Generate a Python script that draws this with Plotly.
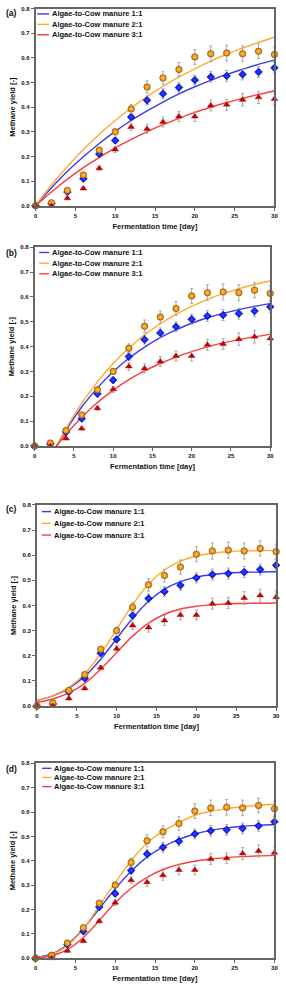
import plotly.graph_objects as go

W, H = 286, 987

# ---------------- data ----------------
days = [0, 2, 4, 6, 8, 10, 12, 14, 16, 18, 20, 22, 24, 26, 28, 30]

series_names = ["Algae-to-Cow manure 1:1", "Algae-to-Cow manure 2:1", "Algae-to-Cow manure 3:1"]

# measured methane yield (same in all panels)
yield_11 = [0.0, 0.008, 0.056, 0.110, 0.210, 0.265, 0.360, 0.428, 0.455, 0.480, 0.510, 0.523, 0.527, 0.533, 0.543, 0.560]
yield_21 = [0.0, 0.012, 0.062, 0.125, 0.226, 0.300, 0.393, 0.482, 0.519, 0.553, 0.604, 0.617, 0.620, 0.617, 0.627, 0.614]
yield_31 = [0.0, 0.000, 0.030, 0.070, 0.152, 0.228, 0.320, 0.312, 0.340, 0.362, 0.362, 0.407, 0.410, 0.430, 0.440, 0.433]

err_11 = [0.0, 0.004, 0.006, 0.008, 0.010, 0.012, 0.015, 0.018, 0.020, 0.020, 0.020, 0.022, 0.022, 0.022, 0.022, 0.022]
err_21 = [0.0, 0.004, 0.006, 0.008, 0.010, 0.012, 0.018, 0.025, 0.025, 0.028, 0.030, 0.032, 0.032, 0.032, 0.030, 0.030]
err_31 = [0.0, 0.003, 0.005, 0.006, 0.008, 0.012, 0.015, 0.018, 0.020, 0.020, 0.020, 0.022, 0.022, 0.025, 0.025, 0.025]

# fitted model curves
fit_a_11 = [0.0, 0.073, 0.140, 0.199, 0.253, 0.302, 0.346, 0.385, 0.421, 0.454, 0.483, 0.509, 0.533, 0.554, 0.574, 0.591]
fit_a_21 = [0.0, 0.084, 0.159, 0.228, 0.290, 0.346, 0.397, 0.443, 0.485, 0.522, 0.556, 0.587, 0.615, 0.640, 0.663, 0.684]
fit_a_31 = [0.0, 0.056, 0.108, 0.155, 0.196, 0.235, 0.269, 0.301, 0.329, 0.355, 0.379, 0.400, 0.419, 0.436, 0.452, 0.467]

fit_b_11 = [-0.180, -0.047, 0.064, 0.157, 0.234, 0.299, 0.353, 0.398, 0.436, 0.467, 0.494, 0.516, 0.534, 0.549, 0.562, 0.573]
fit_b_21 = [-0.192, -0.050, 0.070, 0.172, 0.258, 0.332, 0.394, 0.447, 0.492, 0.530, 0.562, 0.590, 0.613, 0.633, 0.650, 0.664]
fit_b_31 = [-0.130, -0.034, 0.047, 0.116, 0.175, 0.224, 0.267, 0.302, 0.332, 0.358, 0.380, 0.399, 0.415, 0.428, 0.439, 0.449]

fit_c_11 = [0.022, 0.040, 0.070, 0.118, 0.186, 0.268, 0.349, 0.417, 0.465, 0.495, 0.513, 0.523, 0.529, 0.532, 0.533, 0.534]
fit_c_21 = [0.022, 0.041, 0.074, 0.129, 0.208, 0.305, 0.403, 0.485, 0.541, 0.576, 0.597, 0.608, 0.614, 0.617, 0.618, 0.619]
fit_c_31 = [0.015, 0.028, 0.052, 0.090, 0.146, 0.213, 0.278, 0.330, 0.365, 0.386, 0.397, 0.403, 0.407, 0.408, 0.409, 0.410]

fit_d_11 = [0.003, 0.017, 0.056, 0.121, 0.203, 0.285, 0.357, 0.415, 0.457, 0.488, 0.510, 0.525, 0.535, 0.542, 0.546, 0.549]
fit_d_21 = [0.002, 0.014, 0.052, 0.120, 0.215, 0.310, 0.400, 0.473, 0.522, 0.557, 0.587, 0.603, 0.614, 0.622, 0.628, 0.632]
fit_d_31 = [0.002, 0.010, 0.035, 0.085, 0.155, 0.228, 0.287, 0.332, 0.364, 0.385, 0.398, 0.407, 0.413, 0.417, 0.420, 0.422]

panel_labels = ["(a)", "(b)", "(c)", "(d)"]
fits = [
    [fit_a_11, fit_a_21, fit_a_31],
    [fit_b_11, fit_b_21, fit_b_31],
    [fit_c_11, fit_c_21, fit_c_31],
    [fit_d_11, fit_d_21, fit_d_31],
]
measured = [yield_11, yield_21, yield_31]
errors = [err_11, err_21, err_31]

x_ticks = [0, 5, 10, 15, 20, 25, 30]
y_ticks = [0.0, 0.1, 0.2, 0.3, 0.4, 0.5, 0.6, 0.7, 0.8]

# ---------------- styles ----------------
FONT = "Liberation Sans, Arial, sans-serif"
line_colors = ["#3a3af0", "#ffab30", "#ff3c3c"]
AX = "#666666"

# plot areas in pixels: (left, right, top, bottom)
boxes = [
    (34.3, 278.3, 5.7, 204.0),
    (33.3, 274.0, 245.7, 445.7),
    (35.7, 280.0, 505.0, 707.3),
    (34.3, 278.3, 765.0, 961.0),
]
# legend geometry per panel: (line x0, line x1, first row y, row gap)
legend_geo = [
    (36.0, 48.0, 11.0, 10.5),
    (38.0, 48.0, 251.0, 10.7),
    (40.7, 50.0, 511.7, 11.8),
    (41.0, 50.5, 770.0, 9.2),
]
label_y = [10.3, 252.0, 509.0, 771.0]


def px(x):
    return x / W


def py(y):
    return 1 - y / H


fig = go.Figure()
layout = dict(
    width=W, height=H,
    margin=dict(l=0, r=0, t=0, b=0),
    paper_bgcolor="white", plot_bgcolor="white",
    showlegend=False,
    font=dict(family=FONT, color="#111111", weight="bold"),
)
shapes = []
annotations = []

for p in range(4):
    xa = "x" if p == 0 else f"x{p+1}"
    ya = "y" if p == 0 else f"y{p+1}"
    l, r, t, b = boxes[p]

    # fitted curves
    for s in range(3):
        fig.add_trace(go.Scatter(
            x=days, y=fits[p][s], mode="lines", xaxis=xa, yaxis=ya,
            line=dict(color=line_colors[s], width=1.4, shape="spline", smoothing=1.0),
            name=series_names[s], hoverinfo="skip", cliponaxis=True,
        ))
    # measured points
    marker_styles = [
        dict(symbol="diamond", size=6, color="#0000e0",
             line=dict(color="#00008a", width=0.5),
             gradient=dict(type="radial", color="#2a4cff")),
        dict(symbol="circle", size=6.5, color="#d98208",
             line=dict(color="#7a4604", width=0.6),
             gradient=dict(type="radial", color="#ffc34a")),
        dict(symbol="triangle-up", size=6, color="#cc0000",
             line=dict(color="#8a0000", width=0.4)),
    ]
    for s in range(3):
        fig.add_trace(go.Scatter(
            x=days, y=measured[s], mode="markers", xaxis=xa, yaxis=ya,
            marker=marker_styles[s],
            error_y=dict(type="data", array=errors[s], visible=True,
                         color="#a8a8a8", thickness=1, width=1.5),
            name=series_names[s], cliponaxis=False,
        ))

    axis_common = dict(
        showline=True, linecolor=AX, linewidth=1.6, mirror=True,
        ticks="outside", ticklen=3, tickwidth=1, tickcolor=AX,
        showgrid=False, zeroline=False,
        tickfont=dict(family=FONT, size=6, color="#111111", weight="bold"),
    )
    layout["xaxis" if p == 0 else f"xaxis{p+1}"] = dict(
        axis_common, domain=[px(l), px(r)], anchor=ya, range=[0, 30],
        tickmode="array", tickvals=x_ticks, ticktext=[str(v) for v in x_ticks],
        title=dict(text="Fermentation time [day]", standoff=6,
                   font=dict(family=FONT, size=7.5, color="#111111", weight="bold")),
    )
    layout["yaxis" if p == 0 else f"yaxis{p+1}"] = dict(
        axis_common, domain=[py(b), py(t)], anchor=xa, range=[0, 0.8],
        tickmode="array", tickvals=y_ticks, ticktext=[f"{v:.1f}" for v in y_ticks],
        title=dict(text="Methane yield [-]", standoff=5,
                   font=dict(family=FONT, size=7.5, color="#111111", weight="bold")),
    )

    # in-plot legend
    lx0, lx1, ly0, gap = legend_geo[p]
    for s in range(3):
        yy = ly0 + s * gap
        shapes.append(dict(type="line", xref="paper", yref="paper",
                           x0=px(lx0), x1=px(lx1), y0=py(yy), y1=py(yy),
                           line=dict(color=line_colors[s], width=1.4)))
        annotations.append(dict(
            text=series_names[s], xref="paper", yref="paper",
            x=px(lx1 + 1), y=py(yy), xanchor="left", yanchor="middle",
            showarrow=False,
            font=dict(family=FONT, size=7.5, color="#111111", weight="bold"),
        ))
    # panel label
    annotations.append(dict(
        text=panel_labels[p], xref="paper", yref="paper",
        x=px(2), y=py(label_y[p]), xanchor="left", yanchor="middle",
        showarrow=False,
        font=dict(family=FONT, size=8.5, color="#111111", weight="bold"),
    ))

layout["shapes"] = shapes
layout["annotations"] = annotations
fig.update_layout(**layout)
fig.write_html(
    "out.html",
    config={"displayModeBar": False},
    post_script="document.body.style.margin='0';document.body.style.overflow='hidden';",
)
